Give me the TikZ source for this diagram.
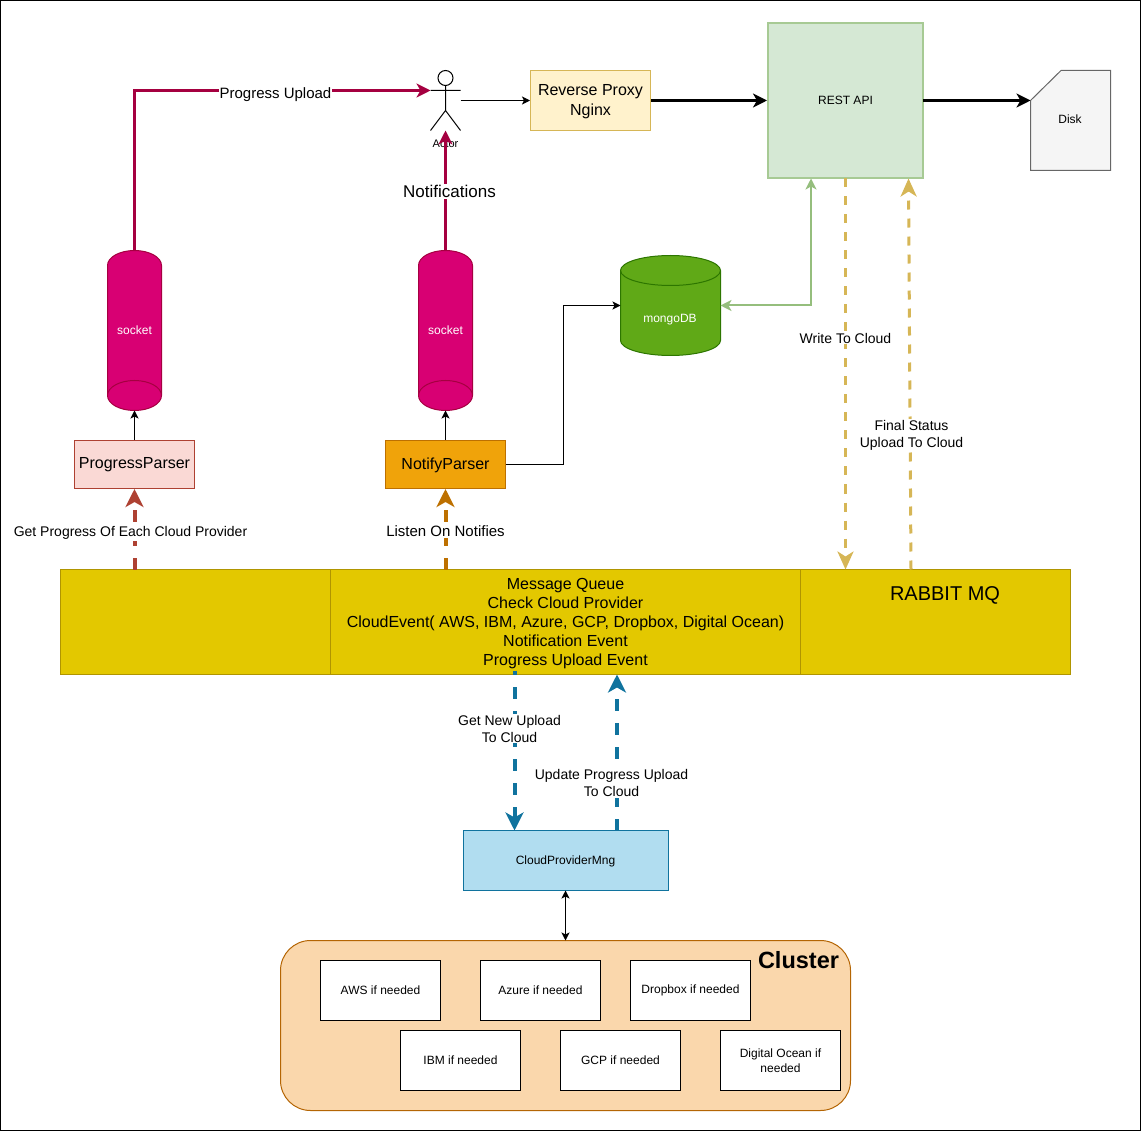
\documentclass[tikz,border=0pt]{standalone}
\usepackage{fontspec}
\setmainfont{Liberation Sans}
\usetikzlibrary{arrows.meta,calc}
\definecolor{sockfill}{HTML}{D80073}\definecolor{sockline}{HTML}{A50040}
\definecolor{restfill}{HTML}{D5E8D4}\definecolor{restline}{HTML}{82B366}
\definecolor{proxfill}{HTML}{FFF2CC}\definecolor{proxline}{HTML}{D6B656}
\definecolor{diskfill}{HTML}{F5F5F5}\definecolor{diskline}{HTML}{666666}
\definecolor{mongofill}{HTML}{60A917}\definecolor{mongoline}{HTML}{2D7600}
\definecolor{ppfill}{HTML}{FAD9D5}\definecolor{ppline}{HTML}{AE4132}
\definecolor{npfill}{HTML}{F0A30A}\definecolor{npline}{HTML}{BD7000}
\definecolor{mqfill}{HTML}{E3C800}\definecolor{mqline}{HTML}{B09500}
\definecolor{cpfill}{HTML}{B1DDF0}\definecolor{cpline}{HTML}{10739E}
\definecolor{clfill}{HTML}{FAD7AC}\definecolor{clline}{HTML}{B46504}
\tikzset{
  x=1pt,y=-1pt,
  box/.style={draw,inner sep=0pt,align=center,line width=1pt,font=\fontsize{12}{15}\selectfont},
  t14/.style={inner sep=1pt,align=center,fill=white,font=\fontsize{14}{17}\selectfont},
  t15/.style={inner sep=1pt,align=center,fill=white,font=\fontsize{15}{18}\selectfont},
  ghost/.style={inner sep=0pt,outer sep=0pt},
  thin1/.style={line width=1pt,-{Stealth[length=8pt,width=8pt,inset=2pt]}},
  thick1/.style={line width=3pt,-{Stealth[length=14pt,width=14pt,inset=4pt]}},
  dash1/.style={line width=3pt,dash pattern=on 9pt off 9pt,-{Stealth[length=18pt,width=16pt,inset=5pt]}},
  dash2/.style={line width=4pt,dash pattern=on 12pt off 12pt,-{Stealth[length=18pt,width=18pt,inset=5pt]}},
}
\newcommand{\cyl}[6]{% x1,y1,x2,y2,ry,style
  \draw[#6] (#1,#2+#5) arc[x radius={(#3-#1)/2},y radius=#5,start angle=180,end angle=360]
     -- (#3,#4-#5) arc[x radius={(#3-#1)/2},y radius=#5,start angle=0,end angle=180] -- cycle;
  \draw[#6,fill=none] (#1,#4-#5) arc[x radius={(#3-#1)/2},y radius=#5,start angle=180,end angle=360];
}
\begin{document}
\begin{tikzpicture}
\useasboundingbox (0,0) rectangle (1141,1131);
\draw[black,line width=1pt] (0.5,0.5) rectangle (1140.5,1130.5);

% sockets
\cyl{107.5}{250.5}{161.5}{410.5}{15}{fill=sockfill,draw=sockline,line width=1pt}
\node[ghost,minimum width=54pt,minimum height=160pt,text=white,font=\fontsize{12}{15}\selectfont] (sockA) at (134.5,330.5) {socket};
\cyl{418.5}{250.5}{472.5}{410.5}{15}{fill=sockfill,draw=sockline,line width=1pt}
\node[ghost,minimum width=54pt,minimum height=160pt,text=white,font=\fontsize{12}{15}\selectfont] (sockB) at (445.5,330.5) {socket};

% mongo
\draw[fill=mongofill,draw=mongoline,line width=1pt] (620.5,270.5) arc[x radius=50,y radius=15,start angle=180,end angle=360]
  -- (720.5,340.5) arc[x radius=50,y radius=15,start angle=0,end angle=180] -- cycle;
\draw[mongoline,line width=1pt] (620.5,270.5) arc[x radius=50,y radius=15,start angle=180,end angle=0];
\node[ghost,minimum width=100pt,minimum height=100pt] (mongo) at (670.5,305.5) {};
\node[ghost,text=white,font=\fontsize{12}{15}\selectfont] (mongolab) at (670,319.5) {mongoDB};

% actor
\node[ghost,minimum width=30pt,minimum height=60pt] (actor) at (445.5,100.5) {};
\draw[black,line width=1pt] (445.5,78) circle[radius=7.5];
\draw[black,line width=1pt] (445.5,85.5) -- (445.5,110.5) -- (430.5,130.5) (445.5,110.5) -- (460.5,130.5) (430.5,90.5) -- (460.5,90.5);
\node[ghost,font=\fontsize{11}{13}\selectfont] (actorlab) at (445.5,143.5) {Actor};
\coordinate (actorarm) at (430.5,90.5);

% boxes
\node[box,fill=proxfill,draw=proxline,minimum width=120pt,minimum height=60pt] (proxy) at (590.5,100.5) {};
\node[ghost,align=center,font=\fontsize{16}{20}\selectfont] (proxytext) at (590.5,101.5) {Reverse Proxy\\Nginx};
\node[box,fill=restfill,draw=restline!70!white,line width=2pt,minimum width=155pt,minimum height=155pt] (rest) at (845.5,100.5) {REST API};
\path[fill=diskfill,draw=diskline,line width=1pt] (1061,70.5) -- (1110.5,70.5) -- (1110.5,170.5) -- (1030.5,170.5) -- (1030.5,100.5) -- cycle;
\node[ghost,minimum width=80pt,minimum height=100pt,font=\fontsize{12}{15}\selectfont] (disk) at (1070,119.5) {Disk};
\coordinate (diskW) at (1030.5,100.5);
\coordinate (restE) at (923,100.5);
\node[box,fill=ppfill,draw=ppline,minimum width=120pt,minimum height=48pt] (pp) at (134.5,464.5) {};
\node[ghost,font=\fontsize{16}{19}\selectfont] (pptext) at (134.5,465) {ProgressParser};
\node[box,fill=npfill,draw=npline,minimum width=120pt,minimum height=48pt] (np) at (445.5,464.5) {};
\node[ghost,font=\fontsize{16}{19}\selectfont] (nptext) at (445.5,465) {NotifyParser};

% message queue
\node[box,fill=mqfill,draw=mqline,minimum width=270pt,minimum height=105pt] (mqA) at (195.5,622) {};
\node[box,fill=mqfill,draw=mqline,minimum width=470pt,minimum height=105pt] (mqB) at (565.5,622) {};
\node[ghost,align=center,font=\fontsize{16}{19}\selectfont] (mqtext) at (565.5,624) {Message Queue\\Check Cloud Provider\\CloudEvent( AWS, IBM, Azure, GCP, Dropbox, Digital Ocean)\\Notification Event\\Progress Upload Event};
\node[box,fill=mqfill,draw=mqline,minimum width=270pt,minimum height=105pt] (mqC) at (935.5,622) {};
\node[ghost,font=\fontsize{20}{24}\selectfont] (mqlab) at (945,595) {RABBIT MQ};

\node[box,fill=cpfill,draw=cpline,minimum width=205pt,minimum height=60pt] (cpm) at (565.5,860.5) {};
\node[ghost,font=\fontsize{12}{15}\selectfont] (cpmtext) at (565.5,861) {CloudProviderMng};

% cluster
\node[box,fill=clfill,draw=clline,rounded corners=30pt,minimum width=570pt,minimum height=170pt] (cluster) at (565.5,1025.5) {};
\node[ghost,font=\bfseries\fontsize{23.5}{28}\selectfont] (clusterlab) at (798.5,960.5) {Cluster};
\tikzset{w/.style={box,fill=white,draw=black,minimum width=120pt,minimum height=60pt}}
\node[w] (aws) at (380.5,990.5) {AWS if needed};
\node[w] (azure) at (540.5,990.5) {Azure if needed};
\node[w] (dropbox) at (690.5,990.5) {Dropbox if needed};
\node[w] (ibm) at (460.5,1060.5) {IBM if needed};
\node[w] (gcp) at (620.5,1060.5) {GCP if needed};
\node[w] (do) at (780.5,1060.5) {Digital Ocean if\\needed};

% connection points
\coordinate (actorhand) at (460.5,100.5);
\coordinate (mongoE) at (720.5,305.5);
\coordinate (mongoW) at (620.5,305.5);
\coordinate (bendN) at (563.5,305.5);
\coordinate (restA) at (811,178.5);
\coordinate (restW) at (845.5,178.5);
\coordinate (restF) at (908.5,178.5);
\coordinate (mqW) at (845.5,569.5);
\coordinate (mqF) at (911,569.5);
\coordinate (mqP) at (134.5,569.5);
\coordinate (mqN) at (445.5,569.5);
\coordinate (mqG) at (514.5,670.5);
\coordinate (mqU) at (617,674.5);
\coordinate (cpG) at (514.5,830.5);
\coordinate (cpU) at (617,830.5);
\coordinate (cpS) at (565.5,890.5);
\coordinate (clN) at (565.5,940.5);
\coordinate (sockAS) at (134.5,410.5);
\coordinate (sockBS) at (445.5,410.5);

% connectors
\draw[thick1,sockline] (sockA.north) |- (actorarm);
\draw[thick1,sockline] (sockB.north) -- (actor.south);
\draw[thin1] (actorhand) -- (proxy.west);
\draw[thick1] (proxy.east) -- (rest.west);
\draw[thick1] (restE) -- (diskW);
\draw[thin1] (pp.north) -- (sockAS);
\draw[thin1] (np.north) -- (sockBS);
\draw[thin1] (np.east) -| (bendN) -- (mongoW);
\draw[line width=2pt,restline!85!white,{Stealth[length=11pt,width=11pt,inset=3pt]}-{Stealth[length=11pt,width=11pt,inset=3pt]}] (mongoE) -| (restA);
\draw[dash2,ppline] (mqP) -- (pp.south);
\draw[dash2,npline] (mqN) -- (np.south);
\draw[dash1,proxline] (restW) -- (mqW);
\draw[dash1,proxline] (mqF) -- (restF);
\draw[dash2,cpline,dash phase=7.5pt] (mqG) -- (cpG);
\draw[dash2,cpline] (cpU) -- (mqU);
\draw[line width=1pt,{Stealth[length=8pt,width=8pt,inset=2pt]}-{Stealth[length=8pt,width=8pt,inset=2pt]}] (cpS) -- (clN);

% labels
\node[t15] (l1) at (275.5,94.5) {Progress Upload};
\node[inner sep=1pt,fill=white,font=\fontsize{17}{20}\selectfont] (l2) at (449.5,191.5) {Notifications};
\node[t14] (l3) at (130.5,533) {Get Progress Of Each Cloud Provider};
\node[t15] (l4) at (445.5,531) {Listen On Notifies};
\node[t14] (l5) at (845.5,338) {Write To Cloud};
\node[t14] (l6) at (911.5,435) {Final Status\\Upload To Cloud};
\node[t14] (l7) at (509.5,728.5) {Get New Upload\\To Cloud};
\node[t14] (l8) at (611.5,783) {Update Progress Upload\\To Cloud};
\end{tikzpicture}
\end{document}
